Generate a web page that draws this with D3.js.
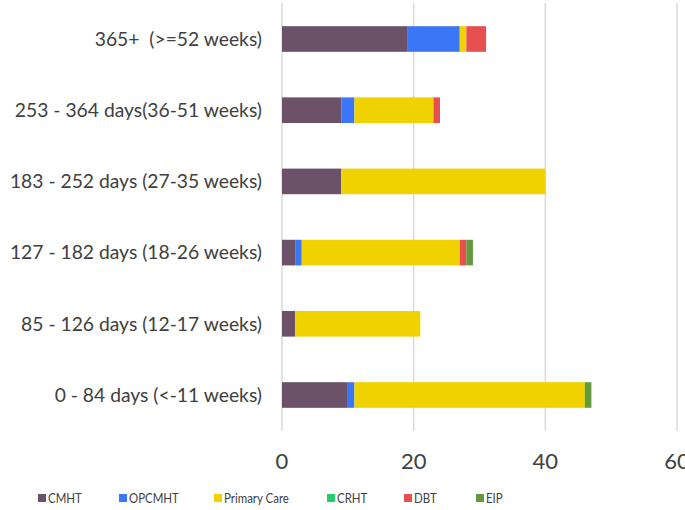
<!DOCTYPE html>
<html>
<head>
<meta charset="utf-8">
<script src="https://cdn.jsdelivr.net/npm/d3@7"></script>
<style>
  body { margin: 0; background: #fff; }
  text { font-family: Lato, "Open Sans", sans-serif; fill: #404040; white-space: pre; }
</style>
</head>
<body>
<div id="chart"></div>
<script>
// categories top to bottom
var categories = [
  "365+  (>=52 weeks)",
  "253 - 364 days(36-51 weeks)",
  "183 - 252 days (27-35 weeks)",
  "127 - 182 days (18-26 weeks)",
  "85 - 126 days (12-17 weeks)",
  "0 - 84 days (<-11 weeks)"
];
var seriesNames = ["CMHT", "OPCMHT", "Primary Care", "CRHT", "DBT", "EIP"];
var cmht        = [19, 9, 9, 2, 2, 10];
var opcmht      = [8, 2, 0, 1, 0, 1];
var primaryCare = [1, 12, 31, 24, 19, 35];
var crht        = [0, 0, 0, 0, 0, 0];
var dbt         = [3, 1, 0, 1, 0, 0];
var eip         = [0, 0, 0, 1, 0, 1];
var xTicks = [0, 20, 40, 60];
var colors = ["#6b5268", "#3b76f7", "#efd200", "#24cc6a", "#e65050", "#639a3d"];

var width = 685, height = 510;
var svg = d3.select("#chart").append("svg")
  .attr("width", width).attr("height", height);

var x = d3.scaleLinear().domain([0, 60]).range([282, 677]);
var y = d3.scaleBand().domain(categories).range([3.4, 430.6])
  .paddingInner(0.64).paddingOuter(0.32);

// gridlines
svg.selectAll("line.grid")
  .data(xTicks)
  .enter().append("line")
  .attr("class", "grid")
  .attr("x1", function(d) { return x(d); })
  .attr("x2", function(d) { return x(d); })
  .attr("y1", 3).attr("y2", 431)
  .attr("stroke", "#d9d9d9")
  .attr("stroke-width", 1.5);

// stacked data
var rows = categories.map(function(c, i) {
  return {cat: c, CMHT: cmht[i], OPCMHT: opcmht[i], "Primary Care": primaryCare[i],
          CRHT: crht[i], DBT: dbt[i], EIP: eip[i]};
});
var stacked = d3.stack().keys(seriesNames)(rows);

var groups = svg.selectAll("g.series")
  .data(stacked)
  .enter().append("g")
  .attr("class", "series")
  .attr("fill", function(d, i) { return colors[i]; });

groups.selectAll("rect")
  .data(function(d) { return d; })
  .enter().append("rect")
  .filter(function(d) { return d[1] - d[0] > 0; })
  .attr("x", function(d) { return x(d[0]); })
  .attr("width", function(d) { return x(d[1]) - x(d[0]); })
  .attr("y", function(d) { return y(d.data.cat); })
  .attr("height", y.bandwidth());

// category labels
svg.selectAll("text.cat")
  .data(categories)
  .enter().append("text")
  .attr("class", "cat")
  .attr("x", 262)
  .attr("y", function(d) { return y(d) + y.bandwidth() / 2; })
  .attr("dy", "0.35em")
  .attr("text-anchor", "end")
  .style("font-size", "19.3px")
  .text(function(d) { return d; });

// x tick labels
svg.selectAll("text.tick")
  .data(xTicks)
  .enter().append("text")
  .attr("class", "tick")
  .attr("x", function(d) { return x(d); })
  .attr("y", 469)
  .attr("text-anchor", "middle")
  .style("font-size", "22px")
  .text(function(d) { return d; });

// legend
var legendX = [38, 119, 214, 327, 404, 476];
var legend = svg.selectAll("g.legend")
  .data(seriesNames)
  .enter().append("g")
  .attr("class", "legend")
  .attr("transform", function(d, i) { return "translate(" + legendX[i] + ",498)"; });

legend.append("rect")
  .attr("x", 0).attr("y", -4)
  .attr("width", 8).attr("height", 8)
  .attr("fill", function(d, i) { return colors[i]; });

legend.append("text")
  .attr("transform", "translate(10,0) scale(0.85,1)")
  .attr("dy", "0.35em")
  .style("font-size", "13.5px")
  .text(function(d) { return d; });
</script>
</body>
</html>
